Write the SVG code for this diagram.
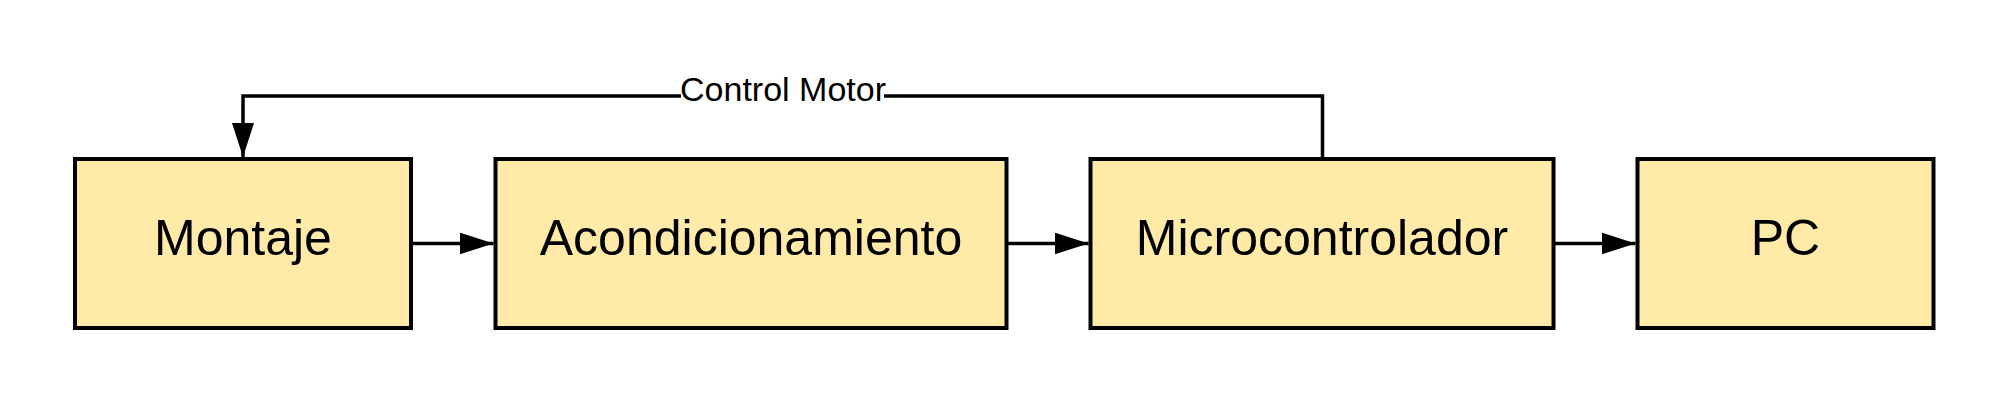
<svg xmlns="http://www.w3.org/2000/svg" width="2008" height="401" viewBox="0 0 2008 401">
<style>
.box{fill:#ffeaa7;stroke:#000;stroke-width:4}
.lbl{font-family:"Liberation Sans",Arial,sans-serif;font-size:50px;fill:#000;text-anchor:middle}
.edge{fill:none;stroke:#000;stroke-width:3.5}
.elbl{font-family:"Liberation Sans",Arial,sans-serif;font-size:34px;fill:#000;text-anchor:middle}
</style>
<defs>
<marker id="arr" markerUnits="userSpaceOnUse" markerWidth="36" markerHeight="24" refX="34" refY="11" orient="auto">
<path d="M0,0 L34,11 L0,22 z" fill="#000"/>
</marker>
</defs>
<rect width="2008" height="401" fill="#fff"/>
<g id="connectors">
<path class="edge" d="M411,243.5 H493.5" marker-end="url(#arr)"/>
<path class="edge" d="M1006,243.5 H1088.5" marker-end="url(#arr)"/>
<path class="edge" d="M1553,243.5 H1635.5" marker-end="url(#arr)"/>
<path class="edge" d="M1322.5,159 V96 H243 V157" marker-end="url(#arr)"/>
<rect x="681" y="80" width="203" height="30" fill="#fff"/>
<text class="elbl" x="783" y="101">Control Motor</text>
</g>
<g id="montaje">
<rect class="box" x="75" y="159" width="336" height="169"/>
<text class="lbl" x="243" y="255">Montaje</text>
</g>
<g id="acondicionamiento">
<rect class="box" x="495.5" y="159" width="511" height="169"/>
<text class="lbl" x="751" y="255">Acondicionamiento</text>
</g>
<g id="microcontrolador">
<rect class="box" x="1090.5" y="159" width="463" height="169"/>
<text class="lbl" x="1322" y="255">Microcontrolador</text>
</g>
<g id="pc">
<rect class="box" x="1637.5" y="159" width="296" height="169"/>
<text class="lbl" x="1785.5" y="255">PC</text>
</g>
</svg>
